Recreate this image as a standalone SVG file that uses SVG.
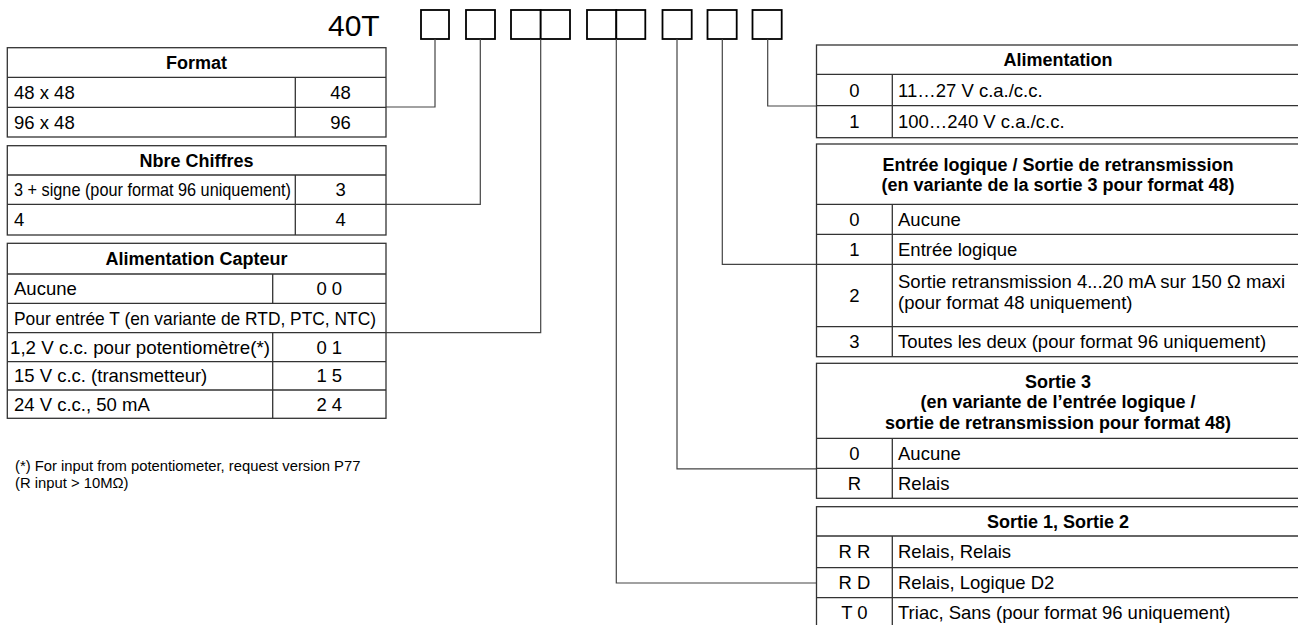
<svg xmlns="http://www.w3.org/2000/svg" width="1298" height="625" viewBox="0 0 1298 625">
<style>
  text { font-family: "Liberation Sans", Arial, sans-serif; fill: #000; }
  .t { font-size: 18.5px; }
  .h { font-size: 18px; font-weight: bold; text-anchor: middle; }
  .c { font-size: 18.5px; text-anchor: middle; }
  .fn { font-size: 14.8px; }
  .big { font-size: 30px; }
  .tb { fill: #fff; stroke: #333; stroke-width: 1.3; }
  .ln { stroke: #333; stroke-width: 1.3; fill: none; }
  .box { fill: #fff; stroke: #000; stroke-width: 1.8; }
  .con { stroke: #444; stroke-width: 1.2; fill: none; }
</style>
<rect width="1298" height="625" fill="#fff"/>

<g id="code">
  <text class="big" x="328" y="36">40T</text>
  <rect class="box" x="421" y="10" width="28" height="29"/>
  <rect class="box" x="466" y="10" width="29" height="29"/>
  <rect class="box" x="511" y="10" width="29.7" height="29"/>
  <rect class="box" x="540.7" y="10" width="29.3" height="29"/>
  <rect class="box" x="587" y="10" width="29.3" height="29"/>
  <rect class="box" x="616.3" y="10" width="29" height="29"/>
  <rect class="box" x="662.5" y="10" width="29.2" height="29"/>
  <rect class="box" x="707.5" y="10" width="29.2" height="29"/>
  <rect class="box" x="752.5" y="10" width="29.2" height="29"/>
</g>

<g id="connectors">
  <polyline class="con" points="435,39 435,107 386,107"/>
  <polyline class="con" points="480.3,39 480.3,204.3 386,204.3"/>
  <polyline class="con" points="540.7,39 540.7,332.7 386,332.7"/>
  <polyline class="con" points="616.3,39 616.3,583 816.5,583"/>
  <polyline class="con" points="677,39 677,468.8 816.5,468.8"/>
  <polyline class="con" points="722.3,39 722.3,264.3 816.5,264.3"/>
  <polyline class="con" points="767.7,39 767.7,106 816.5,106"/>
</g>

<g id="format">
  <rect class="tb" x="7.3" y="47.7" width="378.7" height="89.3"/>
  <line class="ln" x1="7.3" y1="77.3" x2="386" y2="77.3"/>
  <line class="ln" x1="7.3" y1="107.3" x2="386" y2="107.3"/>
  <line class="ln" x1="295.3" y1="77.3" x2="295.3" y2="137"/>
  <text class="h" x="196.6" y="68.8">Format</text>
  <text class="t" x="14" y="98.8">48 x 48</text>
  <text class="c" x="340.6" y="98.8">48</text>
  <text class="t" x="14" y="128.6">96 x 48</text>
  <text class="c" x="340.6" y="128.6">96</text>
</g>

<g id="nbre-chiffres">
  <rect class="tb" x="7.3" y="145.7" width="378.7" height="89.3"/>
  <line class="ln" x1="7.3" y1="175" x2="386" y2="175"/>
  <line class="ln" x1="7.3" y1="204.3" x2="386" y2="204.3"/>
  <line class="ln" x1="295.3" y1="175" x2="295.3" y2="235"/>
  <text class="h" x="196.6" y="166.8">Nbre Chiffres</text>
  <text class="t" x="14" y="196.2" textLength="277" lengthAdjust="spacingAndGlyphs">3 + signe (pour format 96 uniquement)</text>
  <text class="c" x="340.6" y="196.2">3</text>
  <text class="t" x="14" y="226.2">4</text>
  <text class="c" x="340.6" y="226.2">4</text>
</g>

<g id="alimentation-capteur">
  <rect class="tb" x="7.3" y="243.3" width="378.7" height="175"/>
  <line class="ln" x1="7.3" y1="274" x2="386" y2="274"/>
  <line class="ln" x1="7.3" y1="303.3" x2="386" y2="303.3"/>
  <line class="ln" x1="7.3" y1="332.7" x2="386" y2="332.7"/>
  <line class="ln" x1="7.3" y1="361.7" x2="386" y2="361.7"/>
  <line class="ln" x1="7.3" y1="390" x2="386" y2="390"/>
  <line class="ln" x1="272.7" y1="274" x2="272.7" y2="303.3"/>
  <line class="ln" x1="272.7" y1="332.7" x2="272.7" y2="418.3"/>
  <text class="h" x="196.6" y="265">Alimentation Capteur</text>
  <text class="t" x="14" y="295">Aucune</text>
  <text class="c" x="329.3" y="295">0 0</text>
  <text class="t" x="14" y="324.5" textLength="362" lengthAdjust="spacingAndGlyphs">Pour entrée T (en variante de RTD, PTC, NTC)</text>
  <text class="t" x="10" y="353.5" textLength="260" lengthAdjust="spacingAndGlyphs">1,2 V c.c. pour potentiomètre(*)</text>
  <text class="c" x="329.3" y="353.5">0 1</text>
  <text class="t" x="14" y="382.3">15 V c.c. (transmetteur)</text>
  <text class="c" x="329.3" y="382.3">1 5</text>
  <text class="t" x="14" y="410.6">24 V c.c., 50 mA</text>
  <text class="c" x="329.3" y="410.6">2 4</text>
</g>

<g id="footnote">
  <text class="fn" x="15" y="471">(*) For input from potentiometer, request version P77</text>
  <text class="fn" x="15" y="488">(R input &gt; 10MΩ)</text>
</g>

<g id="alimentation">
  <rect class="tb" x="816.5" y="45" width="484" height="92.7"/>
  <line class="ln" x1="816.5" y1="74.3" x2="1300" y2="74.3"/>
  <line class="ln" x1="816.5" y1="105.7" x2="1300" y2="105.7"/>
  <line class="ln" x1="892.3" y1="74.3" x2="892.3" y2="137.7"/>
  <text class="h" x="1058" y="66">Alimentation</text>
  <text class="c" x="854.4" y="96.5">0</text>
  <text class="t" x="898" y="96.5">11…27 V c.a./c.c.</text>
  <text class="c" x="854.4" y="128.2">1</text>
  <text class="t" x="898" y="128.2">100…240 V c.a./c.c.</text>
</g>

<g id="entree-logique">
  <rect class="tb" x="816.5" y="144" width="484" height="212.7"/>
  <line class="ln" x1="816.5" y1="204.3" x2="1300" y2="204.3"/>
  <line class="ln" x1="816.5" y1="234.3" x2="1300" y2="234.3"/>
  <line class="ln" x1="816.5" y1="264.3" x2="1300" y2="264.3"/>
  <line class="ln" x1="816.5" y1="326.7" x2="1300" y2="326.7"/>
  <line class="ln" x1="892.3" y1="204.3" x2="892.3" y2="356.7"/>
  <text class="h" x="1058" y="170.7">Entrée logique / Sortie de retransmission</text>
  <text class="h" x="1058" y="191">(en variante de la sortie 3 pour format 48)</text>
  <text class="c" x="854.4" y="225.8">0</text>
  <text class="t" x="898" y="225.8">Aucune</text>
  <text class="c" x="854.4" y="255.8">1</text>
  <text class="t" x="898" y="255.8">Entrée logique</text>
  <text class="c" x="854.4" y="301.5">2</text>
  <text class="t" x="898" y="287.5">Sortie retransmission 4...20 mA sur 150 Ω maxi</text>
  <text class="t" x="898" y="309">(pour format 48 uniquement)</text>
  <text class="c" x="854.4" y="348.2">3</text>
  <text class="t" x="898" y="348.2">Toutes les deux (pour format 96 uniquement)</text>
</g>

<g id="sortie-3">
  <rect class="tb" x="816.5" y="363.3" width="484" height="135"/>
  <line class="ln" x1="816.5" y1="438.3" x2="1300" y2="438.3"/>
  <line class="ln" x1="816.5" y1="468.3" x2="1300" y2="468.3"/>
  <line class="ln" x1="892.3" y1="438.3" x2="892.3" y2="498.3"/>
  <text class="h" x="1058" y="387.5">Sortie 3</text>
  <text class="h" x="1058" y="408">(en variante de l’entrée logique /</text>
  <text class="h" x="1058" y="428.5">sortie de retransmission pour format 48)</text>
  <text class="c" x="854.4" y="459.8">0</text>
  <text class="t" x="898" y="459.8">Aucune</text>
  <text class="c" x="854.4" y="489.8">R</text>
  <text class="t" x="898" y="489.8">Relais</text>
</g>

<g id="sortie-1-2">
  <rect class="tb" x="816.5" y="506.7" width="484" height="124"/>
  <line class="ln" x1="816.5" y1="536" x2="1300" y2="536"/>
  <line class="ln" x1="816.5" y1="567.7" x2="1300" y2="567.7"/>
  <line class="ln" x1="816.5" y1="597.7" x2="1300" y2="597.7"/>
  <line class="ln" x1="892.3" y1="536" x2="892.3" y2="630"/>
  <text class="h" x="1058" y="527.8">Sortie 1, Sortie 2</text>
  <text class="c" x="854.4" y="558.3">R R</text>
  <text class="t" x="898" y="558.3">Relais, Relais</text>
  <text class="c" x="854.4" y="589.2">R D</text>
  <text class="t" x="898" y="589.2">Relais, Logique D2</text>
  <text class="c" x="854.4" y="619">T 0</text>
  <text class="t" x="898" y="619">Triac, Sans (pour format 96 uniquement)</text>
</g>
</svg>
